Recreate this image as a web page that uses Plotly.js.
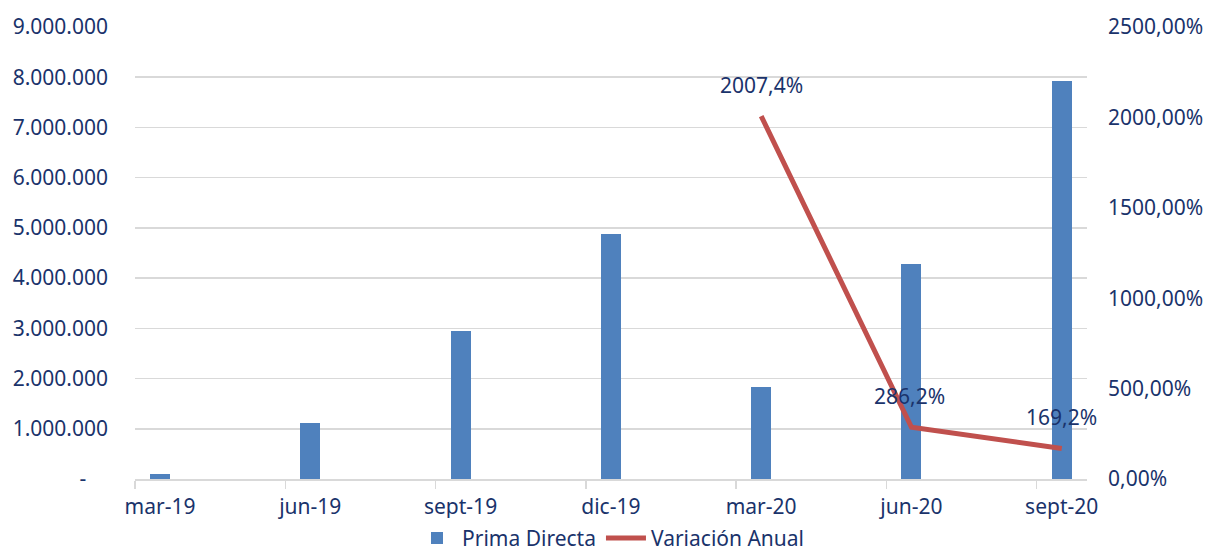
<!DOCTYPE html>
<html><head><meta charset="utf-8">
<script src="https://cdn.plot.ly/plotly-3.0.1.min.js"></script>
<style>html,body{margin:0;padding:0;background:#fff}#chart{width:1209px;height:552px}</style>
</head><body><div id="chart"></div>
<script>
const categories = ["mar-19","jun-19","sept-19","dic-19","mar-20","jun-20","sept-20"];
const primaDirecta = [90000, 1110000, 2950000, 4880000, 1840000, 4280000, 7930000];
const variacionCats = ["mar-20","jun-20","sept-20"];
const variacionAnual = [2007.4, 286.2, 169.2];
const variacionLabels = ["2007,4%","286,2%","169,2%"];
const leftTicks = [0,1000000,2000000,3000000,4000000,5000000,6000000,7000000,8000000,9000000];
const rightTicks = [0,500,1000,1500,2000,2500];

const idx = categories.map((c,i)=>i);
const lineX = variacionCats.map(c=>categories.indexOf(c));
const fmtDots = v => v===0 ? "-\u00a0\u00a0\u00a0\u00a0" : String(v).replace(/\B(?=(\d{3})+(?!\d))/g,".");
const fmtPct = v => v.toFixed(2).replace(".",",")+"%";
const txt = "#1a336b";
const F = "Noto Sans, sans-serif";
const FS = 21;

const traces = [
  {type:"bar", name:"Prima Directa", x:idx, y:primaDirecta, width:0.133,
   marker:{color:"#4f81bd"}, hoverinfo:"none"},
  {type:"scatter", mode:"lines", name:"Variación Anual", x:lineX, y:variacionAnual, yaxis:"y2",
   line:{color:"#c0504d", width:5}, hoverinfo:"none"}
];
const annotations = lineX.map((x,i)=>({x:x, y:variacionAnual[i], xref:"x", yref:"y2",
  text:variacionLabels[i], showarrow:false, yshift:31, xshift: i===1?-2:0,
  font:{family:F, size:FS, color:txt}}));

const layout = {
  width:1209, height:552, margin:{l:135, r:122, t:27, b:73, autoexpand:false},
  paper_bgcolor:"#fff", plot_bgcolor:"#fff",
  font:{family:F, size:FS, color:txt},
  showlegend:true,
  legend:{orientation:"h", x:0.5, xanchor:"center", yref:"container", y:0.062, yanchor:"top",
          font:{family:F, size:FS, color:txt}, itemwidth:40, traceorder:"normal"},
  xaxis:{range:[-0.167,6.168], tickvals:idx.map(i=>i-0.167), ticktext:categories,
         ticklabelshift:25, ticks:"outside", ticklen:8, tickcolor:"#d9d9d9", tickwidth:1.5,
         showgrid:false, showline:true, linecolor:"#d9d9d9", linewidth:1.5, zeroline:false,
         tickfont:{family:F, size:FS, color:txt}, fixedrange:true, automargin:false},
  yaxis:{range:[0,9000000], tickvals:leftTicks, ticktext:leftTicks.map(fmtDots),
         showgrid:true, gridcolor:"#d9d9d9", gridwidth:1.5, zeroline:false, showline:false,
         ticks:"", ticklabelstandoff:26, tickfont:{family:F, size:FS, color:txt}, automargin:false},
  yaxis2:{range:[0,2500], overlaying:"y", side:"right", tickvals:rightTicks,
          ticktext:rightTicks.map(fmtPct), showgrid:false, zeroline:false, showline:false,
          ticks:"", ticklabelstandoff:20, tickfont:{family:F, size:FS, color:txt}, automargin:false},
  annotations:annotations, bargap:0
};
Plotly.newPlot("chart", traces, layout, {displayModeBar:false, staticPlot:true});
</script></body></html>
